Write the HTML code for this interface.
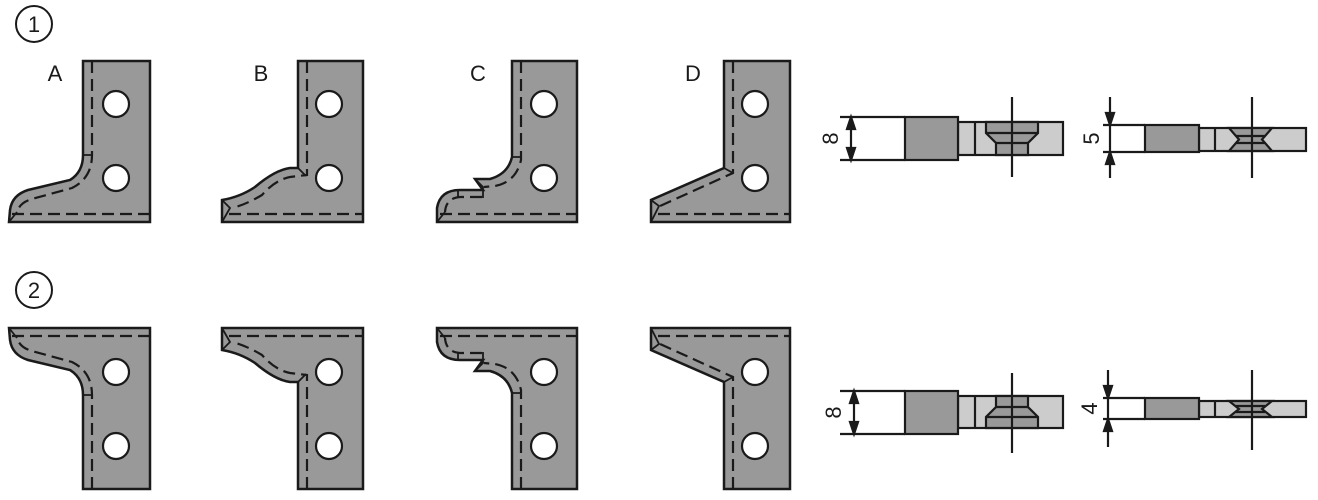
<!DOCTYPE html>
<html><head><meta charset="utf-8"><style>html,body{margin:0;padding:0;background:#fff}svg{display:block}</style></head>
<body>
<svg width="1318" height="500" viewBox="0 0 1318 500" xmlns="http://www.w3.org/2000/svg" font-family="Liberation Sans, sans-serif">
<defs>
<g id="row">
  <!-- A -->
  <path d="M83,61 H150 V222 H9 L10,210 Q12,195 28,190 L70,180 Q83,172 83,155 Z" fill="#999" stroke="#1a1a1a" stroke-width="2.5"/>
  <path d="M92,61 V155 Q92,178 72,188 L32,199 Q18,203 17,214" fill="none" stroke="#1a1a1a" stroke-width="2.2" stroke-dasharray="12,6"/>
  <path d="M12,214 H150" fill="none" stroke="#1a1a1a" stroke-width="2.2" stroke-dasharray="12,6"/>
  <path d="M9,222 L17,212 M83,155 H92" stroke="#1a1a1a" stroke-width="1.8"/>
  <circle cx="116" cy="104" r="13" fill="#fff" stroke="#1a1a1a" stroke-width="2.2"/>
  <circle cx="116" cy="178" r="13" fill="#fff" stroke="#1a1a1a" stroke-width="2.2"/>
  <!-- B -->
  <path d="M298,61 H363 V222 H222 V200 Q240,197 255,187 Q275,170 290,168 L298,168 Z" fill="#999" stroke="#1a1a1a" stroke-width="2.5"/>
  <path d="M307,61 V175 L290,177 Q275,180 262,195 Q245,205 232,208" fill="none" stroke="#1a1a1a" stroke-width="2.2" stroke-dasharray="12,6"/>
  <path d="M229,214 H363" fill="none" stroke="#1a1a1a" stroke-width="2.2" stroke-dasharray="12,6"/>
  <path d="M222,200 L230,208 L222,222 M298,168 L306,176" fill="none" stroke="#1a1a1a" stroke-width="1.8"/>
  <circle cx="329" cy="104" r="13" fill="#fff" stroke="#1a1a1a" stroke-width="2.2"/>
  <circle cx="329" cy="178" r="13" fill="#fff" stroke="#1a1a1a" stroke-width="2.2"/>
  <!-- C -->
  <path d="M512,61 H577 V222 H437 V208 Q440,190 460,190 L483,190 L475,179 L490,179 Q508,174 512,157 Z" fill="#999" stroke="#1a1a1a" stroke-width="2.5"/>
  <path d="M521,61 V160 Q516,182 495,186 L484,187 M482,197 L460,197 Q446,198 445,212" fill="none" stroke="#1a1a1a" stroke-width="2.2" stroke-dasharray="12,6"/>
  <path d="M440,214 H577" fill="none" stroke="#1a1a1a" stroke-width="2.2" stroke-dasharray="12,6"/>
  <path d="M475,179 L483,187 L483,198 M437,222 L445,212 M512,157 H521 M458,190 V197" fill="none" stroke="#1a1a1a" stroke-width="1.8"/>
  <circle cx="544" cy="104" r="13" fill="#fff" stroke="#1a1a1a" stroke-width="2.2"/>
  <circle cx="544" cy="178" r="13" fill="#fff" stroke="#1a1a1a" stroke-width="2.2"/>
  <!-- D -->
  <path d="M724,61 H790 V222 H651 V200 L724,168 Z" fill="#999" stroke="#1a1a1a" stroke-width="2.5"/>
  <path d="M733,61 V173 L660,206" fill="none" stroke="#1a1a1a" stroke-width="2.2" stroke-dasharray="12,6"/>
  <path d="M658,214 H790" fill="none" stroke="#1a1a1a" stroke-width="2.2" stroke-dasharray="12,6"/>
  <path d="M651,200 L659,206 L651,222 M724,168 L733,173" fill="none" stroke="#1a1a1a" stroke-width="1.8"/>
  <circle cx="755" cy="104" r="13" fill="#fff" stroke="#1a1a1a" stroke-width="2.2"/>
  <circle cx="755" cy="178" r="13" fill="#fff" stroke="#1a1a1a" stroke-width="2.2"/>
</g>
</defs>

<circle cx="34" cy="24" r="18" fill="none" stroke="#1a1a1a" stroke-width="2"/>
<text x="34" y="32" font-size="22" text-anchor="middle" fill="#1a1a1a">1</text>
<circle cx="34" cy="290" r="18" fill="none" stroke="#1a1a1a" stroke-width="2"/>
<text x="34" y="298" font-size="22" text-anchor="middle" fill="#1a1a1a">2</text>

<text x="55" y="81" font-size="22" text-anchor="middle" fill="#1a1a1a">A</text>
<text x="261" y="81" font-size="22" text-anchor="middle" fill="#1a1a1a">B</text>
<text x="478" y="81" font-size="22" text-anchor="middle" fill="#1a1a1a">C</text>
<text x="693" y="81" font-size="22" text-anchor="middle" fill="#1a1a1a">D</text>

<use href="#row"/>
<use href="#row" transform="matrix(1,0,0,-1,0,550)"/>

<g stroke="#1a1a1a" stroke-width="2.2" fill="none">
<!-- row1 dim 8 -->
<path d="M840,117 H905 M840,160 H905 M851,119 V158"/>
<path d="M851,117 l-4,12 h8 z M851,160 l-4,-12 h8 z" fill="#1a1a1a"/>
<rect x="958" y="122" width="105" height="33" fill="#ccc"/>
<path d="M975,122 V155"/>
<path d="M986,122 H1038 V133 L1028,143 V155 H996 V143 L986,133 Z" fill="#999"/>
<path d="M986,133 H1038 M996,143 H1028"/>
<rect x="905" y="117" width="53" height="43" fill="#999"/>
<path d="M1012,97 V177"/>
<!-- row1 dim 5 -->
<path d="M1103,125 H1145 M1103,152 H1145 M1110,97 V178"/>
<path d="M1110,125 l-4,-12 h8 z M1110,152 l-4,12 h8 z" fill="#1a1a1a"/>
<rect x="1199" y="128" width="107" height="23" fill="#ccc"/>
<path d="M1215,128 V151"/>
<path d="M1229,128 H1272 L1262,139.5 L1272,151 H1229 L1239,139.5 Z" fill="#999"/>
<path d="M1236,136 H1265 M1236,143 H1265"/>
<rect x="1145" y="125" width="54" height="27" fill="#999"/>
<path d="M1252,97 V178"/>
<!-- row2 dim 8 -->
<path d="M840,391 H905 M840,434 H905 M854,393 V432"/>
<path d="M854,391 l-4,12 h8 z M854,434 l-4,-12 h8 z" fill="#1a1a1a"/>
<rect x="958" y="396" width="105" height="32" fill="#ccc"/>
<path d="M975,396 V428"/>
<path d="M996,396 H1028 V407 L1038,417 V428 H986 V417 L996,407 Z" fill="#999"/>
<path d="M996,407 H1028 M986,417 H1038"/>
<rect x="905" y="391" width="53" height="43" fill="#999"/>
<path d="M1012,373 V453"/>
<!-- row2 dim 4 -->
<path d="M1103,398 H1145 M1103,419 H1145 M1108,370 V447"/>
<path d="M1108,398 l-4,-12 h8 z M1108,419 l-4,12 h8 z" fill="#1a1a1a"/>
<rect x="1199" y="401" width="107" height="16" fill="#ccc"/>
<path d="M1215,401 V417"/>
<path d="M1229,401 H1272 L1262,409 L1272,417 H1229 L1239,409 Z" fill="#999"/>
<path d="M1236,406 H1265 M1236,412 H1265"/>
<rect x="1145" y="398" width="54" height="21" fill="#999"/>
<path d="M1252,370 V450"/>
</g>
<text transform="translate(838,138.5) rotate(-90)" font-size="22" text-anchor="middle" fill="#1a1a1a">8</text>
<text transform="translate(1099,138.5) rotate(-90)" font-size="22" text-anchor="middle" fill="#1a1a1a">5</text>
<text transform="translate(841,412.5) rotate(-90)" font-size="22" text-anchor="middle" fill="#1a1a1a">8</text>
<text transform="translate(1097,408.5) rotate(-90)" font-size="22" text-anchor="middle" fill="#1a1a1a">4</text>
</svg>
</body></html>
